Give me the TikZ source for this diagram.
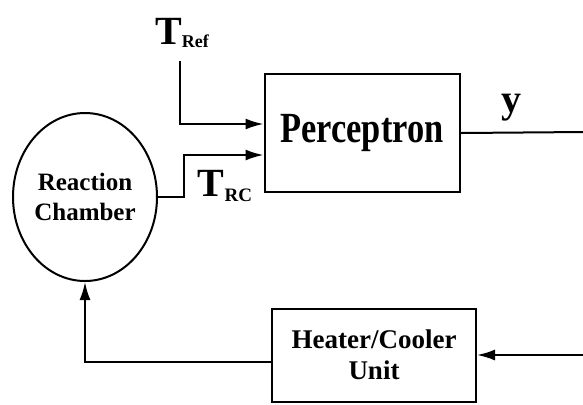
\documentclass[tikz,border=0pt]{standalone}
\usepackage{fontspec}
\setmainfont{Liberation Serif}
\usepackage{tikz}
\usetikzlibrary{arrows.meta,positioning,calc,shapes.geometric}

\begin{document}
\begin{tikzpicture}[x=0.5pt,y=-0.5pt,line width=1pt,
  arr/.style={-{Latex[length=9pt,width=5.5pt]}},
  blockbox/.style={draw,line width=1pt,align=center,font=\bfseries}]
\useasboundingbox (0,0) rectangle (583,404);
% blocks
\node[draw,ellipse,line width=1pt,minimum width=72pt,minimum height=84pt,inner sep=0pt,
align=center,font=\bfseries\fontsize{12.5}{15}\selectfont] (rc) at (85,197){Reaction\\Chamber};
\node[blockbox,minimum width=97.5pt,minimum height=59pt,
font=\bfseries\fontsize{21.5}{24}\selectfont] (perc) at (362,133){\scalebox{0.8}[1]{Perceptron}};
\node[blockbox,minimum width=102pt,minimum height=46.5pt,
font=\bfseries\fontsize{13.5}{15.5}\selectfont] (hc) at (374,355){Heater/Cooler\\Unit};
% labels
\node[font=\bfseries,inner sep=0pt] (tref) at (182,33){\fontsize{20}{22}\selectfont T\raisebox{-1.5pt}{\fontsize{9}{10}\selectfont Ref}};
\node[font=\bfseries,inner sep=0pt] (trc) at (225,186){\fontsize{20}{22}\selectfont T\raisebox{-2.5pt}{\fontsize{9.5}{10}\selectfont RC}};
\node[font=\bfseries\fontsize{20}{22}\selectfont,inner sep=0pt] (ylab) at (511,108){y};
\coordinate (refin) at (180,61);
\coordinate (yout) at (583,132);
\coordinate (hin) at (583,355);
% connectors
\draw[arr] (refin) |- ($(perc.west)+(0,-9)$);
\draw[arr] (rc.east) -- ++(26,0) |- ($(perc.west)+(0,22)$);
\draw (perc.east) -- (yout);
\draw[arr] (hin) -- (hc.east);
\draw[arr] ($(hc.west)+(0,7)$) -| (rc.south);
\end{tikzpicture}
\end{document}
